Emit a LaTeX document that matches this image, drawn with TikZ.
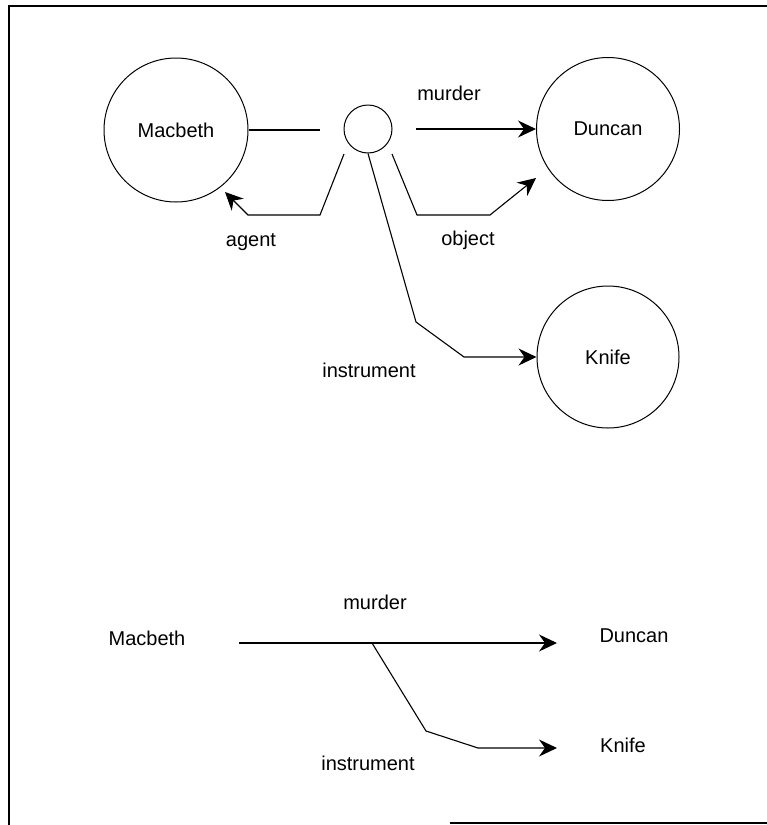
\documentclass[tikz,border=0pt]{standalone}
\usepackage{fontspec}
\setmainfont{Liberation Sans}
\usetikzlibrary{arrows.meta}
\begin{document}
\begin{tikzpicture}[x=1pt,y=-1pt,
  conn/.style={line width=1.1pt},
  arr/.style={conn,-{Stealth[length=18pt,width=17pt,inset=6pt]}},
  ent/.style={circle,draw,line width=1pt,inner sep=0pt,font=\fontsize{20}{20}\selectfont},
  lbl/.style={inner sep=0pt,font=\fontsize{20}{20}\selectfont},
  frame/.style={line width=2pt}]
\useasboundingbox (0,0) rectangle (767,825);
% frame
\draw[frame] (8,6) -- (767,6);
\draw[frame] (9,6) -- (9,825);
\draw[frame] (450,823) -- (767,823);
% top diagram
\node[ent,minimum size=144pt] (M) at (176,130) {Macbeth};
\node[ent,minimum size=143pt] (D) at (608,129) {Duncan};
\node[ent,minimum size=142pt] (K) at (608,357) {Knife};
\node[ent,minimum size=48pt] (S) at (368,129) {};
\node[lbl] (lmurder) at (449,93) {murder};
\node[lbl] (lagent) at (251,242) {agent};
\node[lbl] (lobject) at (468,240) {object};
\node[lbl] (linstr) at (369,370) {instrument};
\coordinate (m1) at (320,130);
\coordinate (m2) at (416,129);
\coordinate (a1) at (344,154);
\coordinate (a2) at (320,215);
\coordinate (a3) at (248,215);
\coordinate (a4) at (225,192);
\coordinate (o1) at (392,154);
\coordinate (o2) at (417,215);
\coordinate (o3) at (490,215);
\coordinate (o4) at (536,178);
\coordinate (i2) at (416,322);
\coordinate (i3) at (464,357);
\draw[conn] (M.east) -- (m1);
\draw[arr] (m2) -- (D.west);
\draw[arr] (a1) -- (a2) -- (a3) -- (a4);
\draw[arr] (o1) -- (o2) -- (o3) -- (o4);
\draw[arr] (S.south) -- (i2) -- (i3) -- (K.west);
% bottom diagram
\node[lbl] (M2) at (147,638) {Macbeth};
\node[lbl] (D2) at (634,636) {Duncan};
\node[lbl] (K2) at (623,745) {Knife};
\node[lbl] (lmurder2) at (375,602) {murder};
\node[lbl] (linstr2) at (368,763) {instrument};
\coordinate (b1) at (239,643);
\coordinate (b2) at (557,643);
\coordinate (b3) at (372,643);
\coordinate (b4) at (426,731);
\coordinate (b5) at (478,748);
\coordinate (b6) at (557,748);
\draw[arr] (b1) -- (b2);
\draw[arr] (b3) -- (b4) -- (b5) -- (b6);
\end{tikzpicture}
\end{document}
